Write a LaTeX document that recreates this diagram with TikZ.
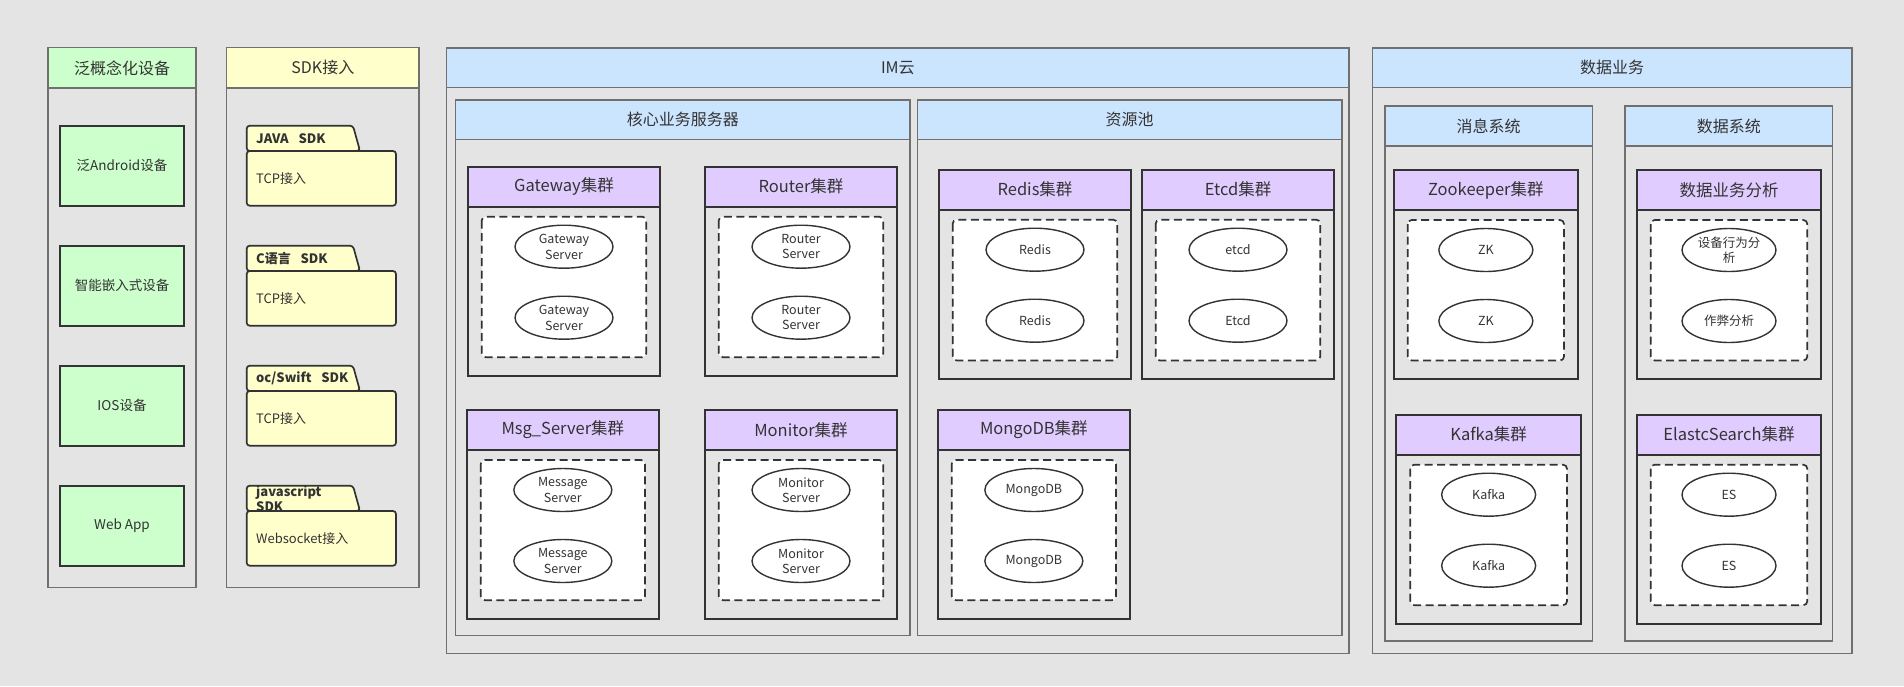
\documentclass[tikz,border=0pt]{standalone}
\usepackage{fontspec}
\setmainfont{Noto Sans CJK SC}
\usetikzlibrary{shapes.geometric}
\definecolor{bgc}{HTML}{E4E4E4}
\definecolor{greenc}{HTML}{CCFFCC}
\definecolor{yellowc}{HTML}{FFFFCC}
\definecolor{bluec}{HTML}{CCE5FF}
\definecolor{purplec}{HTML}{E1CCFF}
\definecolor{laneline}{HTML}{707070}
\definecolor{darkc}{HTML}{333333}
\definecolor{txt}{HTML}{333333}
\tikzset{
  lanebox/.style={draw=laneline, line width=1.3pt},
  clusterbox/.style={draw=darkc, line width=1.7pt},
  dashbox/.style={draw=darkc, fill=white, line width=1.7pt, dash pattern=on 8pt off 4.5pt, rounded corners=4pt},
  srv/.style={ellipse, draw=darkc, fill=white, line width=1.4pt, inner sep=0pt, minimum height=43pt, align=center, font=\fontsize{12.5}{15.5}\selectfont, text=txt},
  lanetitle/.style={font=\fontsize{16}{19}\selectfont, text=txt, inner sep=0pt},
  clustertitle/.style={font=\fontsize{16.5}{19}\selectfont, text=txt, inner sep=0pt},
  devbox/.style={draw=darkc, fill=greenc, line width=1.7pt, minimum width=124pt, minimum height=80pt, inner sep=0pt, font=\fontsize{13.5}{16}\selectfont, text=txt},
  pkgline/.style={draw=darkc, fill=yellowc, line width=1.7pt},
  tabtext/.style={font=\bfseries\fontsize{13}{15}\selectfont, text=txt, inner sep=0pt, align=left},
  pkgtext/.style={font=\fontsize{13}{15}\selectfont, text=txt, inner sep=0pt}
}
% name, x1, y1, x2, yheader, y2, fill, title
\newcommand{\mklane}[8]{%
  \draw[lanebox, fill=#7] (#2,#3) rectangle (#4,#5);
  \draw[lanebox] (#2,#5) -- (#2,#6) -- (#4,#6) -- (#4,#5);
  \node[lanetitle] (#1) at ({(#2+#4)/2},{(#3+#5)/2}) {#8};
}
% name, x1, y1, x2, y2, title, text1, text2, ellipse width
\newcommand{\mkcluster}[9]{%
  \draw[clusterbox, fill=purplec] (#2,#3) rectangle (#4,{#3+40});
  \draw[clusterbox] (#2,{#3+40}) rectangle (#4,#5);
  \node[clustertitle] (#1) at ({(#2+#4)/2},{#3+20}) {#6};
  \draw[dashbox] ({#2+14},{#3+50}) rectangle ({#4-14},{#5-18.5});
  \node[srv, minimum width=#9] (#1a) at ({(#2+#4)/2},{#3+80}) {#7};
  \node[srv, minimum width=#9] (#1b) at ({(#2+#4)/2},{#3+151}) {#8};
}
% name, ytop, tab text, body text
\newcommand{\mkpkg}[4]{%
  \filldraw[pkgline, rounded corners=3pt] (246.7,{#2+25.3}) -- (246.7,#2) -- (353,#2) -- (360,{#2+25.3}) -- cycle;
  \filldraw[pkgline, rounded corners=3pt] (246.7,{#2+25.3}) rectangle (396,{#2+80});
  \node[tabtext, anchor=west] (#1t) at (256,{#2+12.7}) {#3};
  \node[pkgtext, anchor=west] (#1) at (256,{#2+52.7}) {#4};
}
\newcommand{\mkdev}[3]{\node[devbox] (#1) at (122,{#2+40}) {#3};}
\newcommand{\gap}{\hspace{0.75em}}
\begin{document}
\begin{tikzpicture}[x=1pt,y=-1pt]
\useasboundingbox (0,0) rectangle (1904,686);
\fill[bgc] (0,0) rectangle (1904,686);
% lanes
\mklane{dev}{48}{47.7}{196}{88}{587.7}{greenc}{泛概念化设备}
\mklane{sdk}{226.7}{47.7}{419}{88}{587.7}{yellowc}{SDK接入}
\mklane{im}{446.7}{48}{1349}{87.7}{653.7}{bluec}{IM云}
\mklane{core}{455.7}{100}{910}{139.3}{635.3}{bluec}{核心业务服务器}
\mklane{pool}{917.3}{100}{1342}{139.3}{635.3}{bluec}{资源池}
\mklane{data}{1372.3}{48}{1852}{87.7}{653.7}{bluec}{数据业务}
\mklane{msgsys}{1385}{106}{1592.3}{146}{641}{bluec}{消息系统}
\mklane{datasys}{1625}{106}{1832.7}{146}{641}{bluec}{数据系统}
% devices
\mkdev{d1}{125.7}{泛Android设备}
\mkdev{d2}{245.7}{智能嵌入式设备}
\mkdev{d3}{365.7}{IOS设备}
\mkdev{d4}{485.7}{Web App}
% sdk packages
\mkpkg{p1}{125.7}{JAVA\gap SDK}{TCP接入}
\mkpkg{p2}{245.7}{C语言\gap SDK}{TCP接入}
\mkpkg{p3}{365.7}{oc/Swift\gap SDK}{TCP接入}
\mkpkg{p4}{485.7}{javascript\\SDK}{Websocket接入}
% clusters
\mkcluster{gw}{467.7}{166.7}{660.3}{375.7}{Gateway集群}{Gateway\\Server}{Gateway\\Server}{98}
\mkcluster{rt}{704.7}{166.7}{897.3}{375.7}{Router集群}{Router\\Server}{Router\\Server}{98}
\mkcluster{ms}{466.7}{410}{659}{618.7}{Msg\_Server集群}{Message\\Server}{Message\\Server}{98}
\mkcluster{mon}{704.7}{410}{897.3}{618.7}{Monitor集群}{Monitor\\Server}{Monitor\\Server}{98}
\mkcluster{rd}{938.7}{169.7}{1131.3}{379}{Redis集群}{Redis}{Redis}{98}
\mkcluster{et}{1141.7}{169.7}{1334.3}{379}{Etcd集群}{etcd}{Etcd}{98}
\mkcluster{mg}{937.7}{410}{1130}{618.7}{MongoDB集群}{MongoDB}{MongoDB}{98}
\mkcluster{zk}{1393.7}{170}{1578}{379}{Zookeeper集群}{ZK}{ZK}{94}
\mkcluster{an}{1636.7}{170}{1821.3}{379}{数据业务分析}{设备行为分\\析}{作弊分析}{94}
\mkcluster{kf}{1396.3}{414.7}{1581}{623.7}{Kafka集群}{Kafka}{Kafka}{94}
\mkcluster{es}{1636.7}{414.7}{1821.3}{623.7}{ElastcSearch集群}{ES}{ES}{94}
\end{tikzpicture}
\end{document}
